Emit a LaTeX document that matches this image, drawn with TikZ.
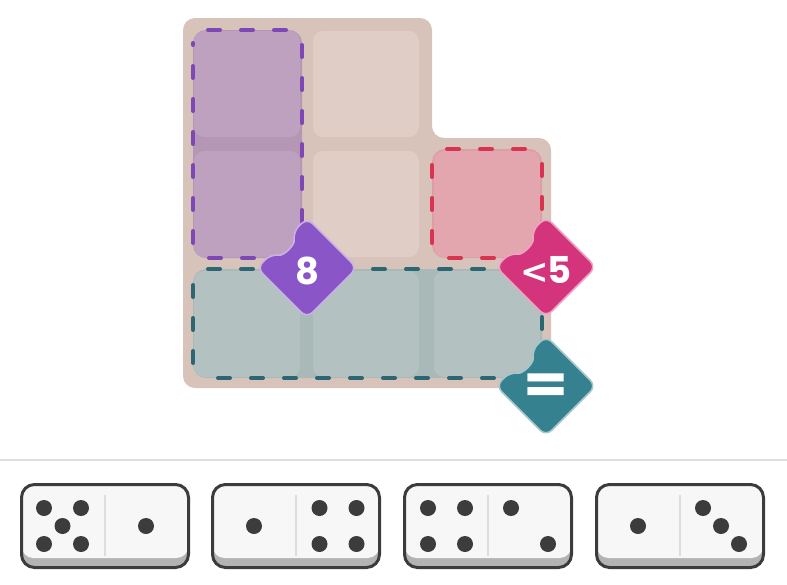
\documentclass[tikz,border=0pt]{standalone}
\usepackage{fontspec}
\newfontfamily\badgefont{Poppins}
\newfontfamily\symfont{DejaVu Sans}
\definecolor{boardc}{HTML}{D7C3BA}
\definecolor{cellc}{HTML}{E0CDC5}
\definecolor{purpbg}{HTML}{B596B5}
\definecolor{purpcell}{HTML}{BEA1BE}
\definecolor{redbg}{HTML}{DC9DA6}
\definecolor{redcell}{HTML}{E3A5AE}
\definecolor{tealbg}{HTML}{A9B9B7}
\definecolor{tealcell}{HTML}{B3C1C0}
\definecolor{purpline}{HTML}{7D48B5}
\definecolor{redline}{HTML}{D8334F}
\definecolor{tealline}{HTML}{2B6672}
\definecolor{purpbadge}{HTML}{8A55C7}
\definecolor{pinkbadge}{HTML}{D4347B}
\definecolor{tealbadge}{HTML}{35818F}
\definecolor{domface}{HTML}{F7F7F7}
\definecolor{domshadow}{HTML}{B3B3B3}
\definecolor{domedge}{HTML}{3C3C3C}
\definecolor{domdiv}{HTML}{DDDDDD}
\definecolor{sepc}{HTML}{E0E0E0}
\tikzset{
  regionline/.style={dash pattern=on 12pt off 21pt, line width=4pt, line cap=round},
  badgetext/.style={text=white, inner sep=0pt, font=\badgefont\bfseries\fontsize{37}{37}\selectfont},
  pip/.style={fill=domedge},
}
\newcommand\cellbox[3]{\fill[#3, rounded corners=10] (#1-53,#2-53) rectangle (#1+53,#2+53);}
\newcommand\regionoutline[5]{%
  \draw[regionline, #5] (#1+15,#2) -- (#3-13,#2);
  \draw[regionline, #5] (#3,#2+15) -- (#3,#4-13);
  \draw[regionline, #5] (#3-15,#4) -- (#1+13,#4);
  \draw[regionline, #5] (#1,#4-15) -- (#1,#2+13);
}
\newcommand\badge[5]{%
  \filldraw[shift={(#1,#2)}, fill=#3, draw=#3!45!white, line width=1.5pt, rounded corners=8]
    (0,-50) -- (50,0) -- (0,50) -- (-50,0) -- (-36,-14)
    .. controls (-23,-12) and (-12,-23) .. (-14,-36) -- cycle;
  \node[badgetext] (#4) at (#1,#2+3) {#5};
}
\newcommand\domino[1]{%
  \fill[domshadow, rounded corners=13] (#1+1.5,484.5) rectangle (#1+168.5,567.5);
  \fill[domface, rounded corners=12] (#1+1.5,484.5) rectangle (#1+168.5,558);
  \draw[domdiv, line width=1.5pt] (#1+85,495) -- (#1+85,556);
  \draw[domedge, line width=3pt, rounded corners=13] (#1+1.5,484.5) rectangle (#1+168.5,567.5);
}
\newcommand\pip[2]{\fill[pip] (#1,#2) circle[radius=8];}
\begin{document}
\begin{tikzpicture}[x=1pt,y=-1pt]
\useasboundingbox (0,0) rectangle (787,584);
% board
\fill[boardc, rounded corners=12] (183,18) -- (432,18) -- (432,138) -- (551,138) -- (551,388) -- (183,388) -- cycle;
% neutral cells
\cellbox{366}{84}{cellc}
\cellbox{366}{204}{cellc}
% region backgrounds
\fill[purpbg, rounded corners=13] (193,30) rectangle (302,258);
\fill[redbg, rounded corners=13] (432,149) rectangle (542,258);
\fill[tealbg, rounded corners=13] (193,269) rectangle (542,378);
% region cells
\cellbox{247}{84}{purpcell}
\cellbox{247}{204}{purpcell}
\cellbox{487}{204}{redcell}
\cellbox{247}{324}{tealcell}
\cellbox{366}{324}{tealcell}
\cellbox{487}{324}{tealcell}
% dashed outlines
\regionoutline{193}{30}{302}{258}{purpline}
\regionoutline{432}{149}{542}{258}{redline}
\regionoutline{193}{269}{542}{378}{tealline}
% badges
\badge{307}{268}{purpbadge}{b8}{8}
\badge{546}{267}{pinkbadge}{blt}{{\symfont\bfseries\fontsize{34}{34}\selectfont<}\kern-1pt5}
\badge{546}{386}{tealbadge}{beq}{\scalebox{1.75}[1.45]{=}}
% separator
\draw[sepc, line width=2pt] (0,460) -- (787,460);
% dominoes
\domino{20}
\domino{211}
\domino{403}
\domino{595}
% domino 1: 5 | 1
\pip{44}{508}\pip{81}{508}\pip{62.5}{526}\pip{44}{544}\pip{81}{544}
\pip{146}{526}
% domino 2: 1 | 4
\pip{254}{526}
\pip{319.5}{508}\pip{356.5}{508}\pip{319.5}{544}\pip{356.5}{544}
% domino 3: 4 | 2
\pip{428}{508}\pip{465}{508}\pip{428}{544}\pip{465}{544}
\pip{511}{508}\pip{548}{544}
% domino 4: 1 | 3
\pip{638}{526}
\pip{703}{508}\pip{721}{526}\pip{739}{544}
\end{tikzpicture}
\end{document}
